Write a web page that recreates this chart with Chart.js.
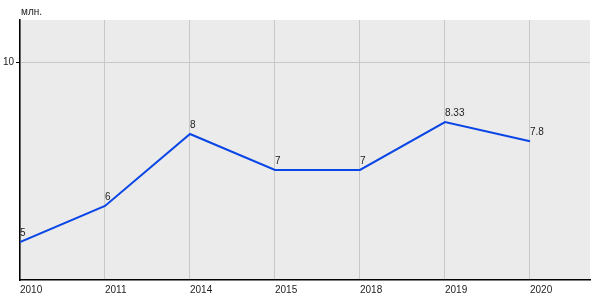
<!DOCTYPE html>
<html>
<head>
<meta charset="utf-8">
<script src="https://cdn.jsdelivr.net/npm/chart.js@4"></script>
<style>
  html, body { margin: 0; padding: 0; background: #fff; }
  #wrap { width: 600px; height: 300px; }
</style>
</head>
<body>
<div id="wrap"><canvas id="chart"></canvas></div>
<script>
// chart data
const years = ['2010', '2011', '2014', '2015', '2018', '2019', '2020'];
const values = [5, 6, 8, 7, 7, 8.33, 7.8];
const valueLabels = ['5', '6', '8', '7', '7', '8.33', '7.8'];
const yTicks = [10];
const unitLabel = 'млн.';

const points = values.map((v, i) => ({ x: i, y: v }));

// gray plot background + unit label + value labels
const decor = {
  id: 'decor',
  beforeDraw(chart) {
    const { ctx, chartArea: a } = chart;
    ctx.save();
    ctx.fillStyle = '#ebebeb';
    ctx.fillRect(a.left, a.top, a.right - a.left, a.bottom - a.top);
    ctx.restore();
  },
  afterDatasetsDraw(chart) {
    const ctx = chart.ctx;
    const meta = chart.getDatasetMeta(0);
    ctx.save();
    ctx.font = '10px Arial, "Liberation Sans", sans-serif';
    ctx.fillStyle = '#222';
    ctx.textAlign = 'left';
    ctx.textBaseline = 'bottom';
    meta.data.forEach((pt, i) => {
      ctx.fillText(valueLabels[i], pt.x, pt.y - 4);
    });
    ctx.textBaseline = 'middle';
    ctx.fillText(unitLabel, chart.chartArea.left + 1, 12);
    ctx.restore();
  }
};

new Chart(document.getElementById('chart'), {
  type: 'line',
  data: {
    datasets: [{
      data: points,
      borderColor: '#0a46e6',
      borderWidth: 2,
      pointRadius: 0,
      tension: 0,
      fill: false
    }]
  },
  options: {
    responsive: true,
    maintainAspectRatio: false,
    animation: false,
    layout: { padding: { top: 20, right: 10, left: 0, bottom: 0 } },
    plugins: {
      legend: { display: false },
      tooltip: { enabled: false }
    },
    scales: {
      x: {
        type: 'linear',
        min: 0,
        max: 6.706,
        afterBuildTicks: s => { s.ticks = years.map((_, i) => ({ value: i })); },
        afterFit: s => { s.height = 20; },
        grid: { color: '#c8c8c8', drawTicks: false },
        border: { color: '#000', width: 1.5 },
        ticks: {
          align: 'start',
          padding: 4,
          color: '#222',
          font: { family: 'Arial, "Liberation Sans", sans-serif', size: 10 },
          callback: (v) => years[v]
        }
      },
      y: {
        min: 3.944,
        max: 11.167,
        afterBuildTicks: s => { s.ticks = yTicks.map(v => ({ value: v })); },
        afterFit: s => { s.width = 20; },
        grid: { color: '#c8c8c8', tickColor: '#000', tickLength: 4 },
        border: { color: '#000', width: 1.5 },
        ticks: {
          padding: 2,
          color: '#222',
          font: { family: 'Arial, "Liberation Sans", sans-serif', size: 10 }
        }
      }
    }
  },
  plugins: [decor]
});
</script>
</body>
</html>
